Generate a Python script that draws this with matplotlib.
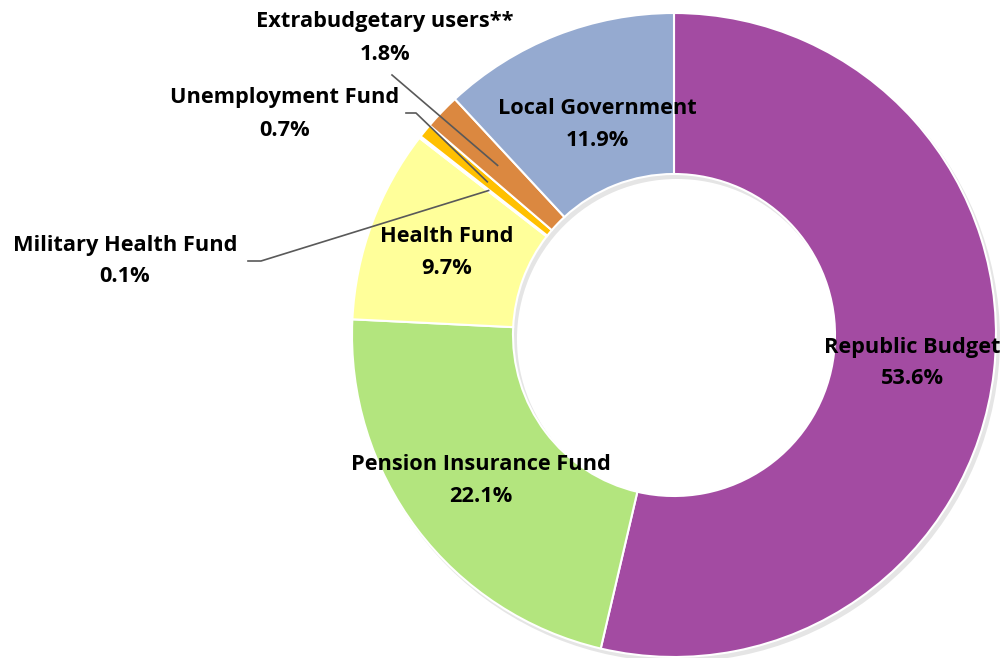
import numpy as np
import matplotlib.pyplot as plt
from matplotlib.patches import Wedge

# data
labels = ['Republic Budget', 'Pension Insurance Fund', 'Health Fund',
          'Military Health Fund', 'Unemployment Fund',
          'Extrabudgetary users**', 'Local Government']
shares = [53.6, 22.1, 9.7, 0.1, 0.7, 1.8, 11.9]
colors = ['#A34BA2', '#B3E57E', '#FFFF9A', '#E6A23C', '#FFC000',
          '#DB8840', '#95AAD0']

plt.rcParams['font.family'] = ['Open Sans', 'DejaVu Sans']

W, H = 1008, 658
fig = plt.figure(figsize=(W / 100, H / 100), dpi=100)
ax = fig.add_axes([0, 0, 1, 1])
ax.set_xlim(0, W)
ax.set_ylim(0, H)
ax.set_aspect('equal')
ax.axis('off')

cx, cy, R = 674, H - 335, 322
ring = 0.5

# faint shadow under the ring
ax.add_patch(Wedge((cx + 3, cy - 4), R + 1, 0, 360, width=R * ring + 2,
                   facecolor='#000000', alpha=0.10, edgecolor='none', zorder=0))

wedges, _ = ax.pie(shares, colors=colors, startangle=90, counterclock=False,
                   center=(cx, cy), radius=R, frame=True,
                   wedgeprops=dict(width=R * ring, edgecolor='white', linewidth=1.5))
ax.set_xlim(0, W)
ax.set_ylim(0, H)
ax.axis('off')

# labels (pixel positions, y measured from top)
pos = {
    'Republic Budget': (912, 347),
    'Pension Insurance Fund': (481, 465),
    'Health Fund': (447, 237),
    'Local Government': (597, 108),
    'Extrabudgetary users**': (385, 22),
    'Unemployment Fund': (285, 98),
    'Military Health Fund': (125, 245),
}
for lab, val in zip(labels, shares):
    px, py = pos[lab]
    ax.text(px, H - py, lab, ha='center', va='center', fontsize=15.7,
            fontweight='bold', color='black', zorder=5)
    ax.text(px, H - py - 32, f'{val:.1f}%', ha='center', va='center',
            fontsize=15.7, fontweight='bold', color='black', zorder=5)


def slice_point(i, frac):
    w = wedges[i]
    ang = np.deg2rad((w.theta1 + w.theta2) / 2)
    r = R * frac
    return cx + r * np.cos(ang), cy + r * np.sin(ang)


# leader lines
lc = '#595959'
ex, ey = slice_point(5, 0.76)
ax.plot([392, ex], [H - 75, ey], color=lc, lw=1.2, zorder=4)
ux, uy = slice_point(4, 0.75)
ax.plot([406, 416, ux], [H - 113, H - 113, uy], color=lc, lw=1.2, zorder=4)
mx, my = slice_point(3, 0.73)
ax.plot([248, 261, mx], [H - 261, H - 261, my], color=lc, lw=1.2, zorder=4)

fig.savefig('out.png', dpi=100)
